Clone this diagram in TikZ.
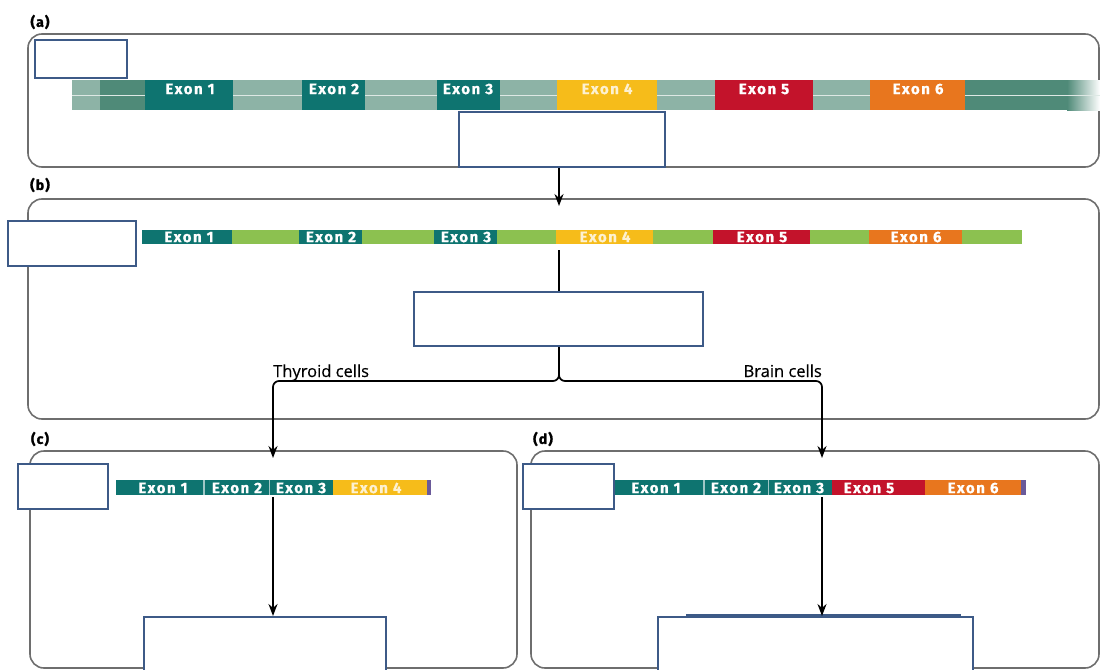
\documentclass[tikz,border=0pt]{standalone}
\usepackage{fontspec}
\setsansfont{Open Sans}
\newfontfamily\exonfont{Fira Sans}
\usetikzlibrary{arrows.meta}
\definecolor{teal1}{HTML}{0E7470}
\definecolor{lightgg}{HTML}{8DB3A6}
\definecolor{darkgg}{HTML}{4F8A78}
\definecolor{yel}{HTML}{F6BC1A}
\definecolor{redx}{HTML}{C3132B}
\definecolor{orangex}{HTML}{E8761E}
\definecolor{greenx}{HTML}{8CC150}
\definecolor{purplex}{HTML}{6A5A9A}
\definecolor{bluebox}{HTML}{3D5A87}
\definecolor{framegray}{HTML}{6E6E6E}
\begin{document}
\begin{tikzpicture}[x=1pt,y=-1pt,
  frame/.style={draw=framegray,line width=1.6pt,rounded corners=14pt},
  bbox/.style={draw=bluebox,line width=2pt,fill=white,inner sep=0pt},
  exontext/.style={text=white,inner sep=0pt,font=\exonfont\bfseries\fontsize{15}{15}\selectfont\addfontfeature{LetterSpace=10,FakeBold=0.8}},
  exontextlt/.style={exontext,text=white!80!yel},
  plabel/.style={inner sep=0pt,font=\exonfont\bfseries\fontsize{14}{14}\selectfont\addfontfeature{LetterSpace=8,FakeBold=1.5}},
  celllabel/.style={inner sep=0pt,font=\sffamily\fontsize{16.5}{16.5}\selectfont\addfontfeature{FakeBold=0.4}},
  conn/.style={line width=1.7pt,black},
  arr/.style={conn,-{Stealth[length=12pt,width=9pt]}}]
\useasboundingbox (0,0) rectangle (1102,669);

% frames
\draw[frame] (28,34) rectangle (1099,167);
\draw[frame] (28,199) rectangle (1099,419);
\draw[frame] (30,451) rectangle (517,668);
\draw[frame] (531,451) rectangle (1099,668);

% panel labels
\node[plabel] (la) at (40,22) {(a)};
\node[plabel] (lb) at (40,185) {(b)};
\node[plabel] (lc) at (40,439) {(c)};
\node[plabel] (ld) at (543,439) {(d)};

% ---------- strip (a) ----------
\fill[lightgg] (72,80) rectangle (1068,110);
\fill[darkgg] (100,80) rectangle (145,110);
\fill[darkgg] (965,80) rectangle (1068,110);
\shade[left color=darkgg,right color=white] (1067,80) rectangle (1100,110);
\draw[white!70!lightgg,line width=1pt] (72,95.5) -- (1100,95.5);
\fill[teal1] (145,80) rectangle (233,110);
\fill[teal1] (302,80) rectangle (365,110);
\fill[teal1] (437,80) rectangle (500,110);
\fill[yel] (557,80) rectangle (657,110);
\fill[redx] (715,80) rectangle (813,110);
\fill[orangex] (870,80) rectangle (965,110);
\node[exontext] (a-e1) at (190,89) {Exon 1};
\node[exontext] (a-e2) at (334,89) {Exon 2};
\node[exontext] (a-e3) at (468,89) {Exon 3};
\node[exontextlt] (a-e4) at (607,89) {Exon 4};
\node[exontext] (a-e5) at (764,89) {Exon 5};
\node[exontext] (a-e6) at (918,89) {Exon 6};

% ---------- strip (b) ----------
\fill[greenx] (142,230) rectangle (1022,244);
\fill[teal1] (142,230) rectangle (232,244);
\fill[teal1] (299,230) rectangle (362,244);
\fill[teal1] (434,230) rectangle (497,244);
\fill[yel] (556,230) rectangle (653,244);
\fill[redx] (713,230) rectangle (810,244);
\fill[orangex] (869,230) rectangle (962,244);
\node[exontext] (b-e1) at (189,237) {Exon 1};
\node[exontext] (b-e2) at (331,237) {Exon 2};
\node[exontext] (b-e3) at (466,237) {Exon 3};
\node[exontextlt] (b-e4) at (605,237) {Exon 4};
\node[exontext] (b-e5) at (762,237) {Exon 5};
\node[exontext] (b-e6) at (916,237) {Exon 6};

% ---------- strip (c) ----------
\fill[teal1] (116,480) rectangle (333,495);
\fill[yel] (333,480) rectangle (427,495);
\fill[purplex] (427,480) rectangle (431,495);
\draw[white!60!teal1,line width=1.5pt] (204,480) -- (204,495);
\draw[white!60!teal1,line width=0.8pt] (269.5,480) -- (269.5,495);
\node[exontext] (c-e1) at (163,488) {Exon 1};
\node[exontext] (c-e2) at (237,488) {Exon 2};
\node[exontext] (c-e3) at (301,488) {Exon 3};
\node[exontextlt] (c-e4) at (376,488) {Exon 4};

% ---------- strip (d) ----------
\fill[teal1] (612,480) rectangle (832,495);
\fill[redx] (832,480) rectangle (925,495);
\fill[orangex] (925,480) rectangle (1021,495);
\fill[purplex] (1021,480) rectangle (1026,495);
\draw[white!60!teal1,line width=1.5pt] (704,480) -- (704,495);
\draw[white!60!teal1,line width=0.8pt] (768.5,480) -- (768.5,495);
\node[exontext] (d-e1) at (656,488) {Exon 1};
\node[exontext] (d-e2) at (736,488) {Exon 2};
\node[exontext] (d-e3) at (799,488) {Exon 3};
\node[exontext] (d-e5) at (869,488) {Exon 5};
\node[exontext] (d-e6) at (973,488) {Exon 6};

% ---------- blue boxes ----------
\node[bbox,minimum width=92pt,minimum height=37pt] (a1) at (81,59) {};
\node[bbox,minimum width=206pt,minimum height=55pt] (a2) at (562,139) {};
\node[bbox,minimum width=128pt,minimum height=45pt] (b1) at (72,243.5) {};
\node[bbox,minimum width=289pt,minimum height=54pt] (b2) at (558.5,319) {};
\node[bbox,minimum width=90pt,minimum height=45pt] (c1) at (62.5,486) {};
\node[bbox,minimum width=91pt,minimum height=45pt] (d1) at (568,486) {};
\node[bbox,minimum width=242pt,minimum height=60pt] (c2) at (265,647) {};
\node[bbox,minimum width=315pt,minimum height=60pt] (d2) at (815,647) {};
\draw[bluebox,line width=1.2pt] (686,615) -- (961,615);

% ---------- connectors ----------
\coordinate (bin) at (559,206);
\coordinate (bstrip) at (559,250);
\coordinate (split) at (559,381);
\coordinate (cin) at (273,458);
\coordinate (din) at (822,458);
\coordinate (cout) at (273,497);
\coordinate (dout) at (822,497);

\draw[arr] (a2.south -| bin) -- (bin);
\draw[conn] (bstrip) -- (b2.north -| bstrip);
\draw[arr,rounded corners=6pt] (b2.south -| split) -- (split) -| (cin);
\draw[arr,rounded corners=6pt] (b2.south -| split) -- (split) -| (din);
\draw[arr] (cout) -- (c2.north -| cout);
\draw[arr] (dout) -- (d2.north -| dout);

\node[celllabel,anchor=base west] (thy) at (273,377) {Thyroid cells};
\node[celllabel,anchor=base east] (brain) at (822,377) {Brain cells};
\end{tikzpicture}
\end{document}
